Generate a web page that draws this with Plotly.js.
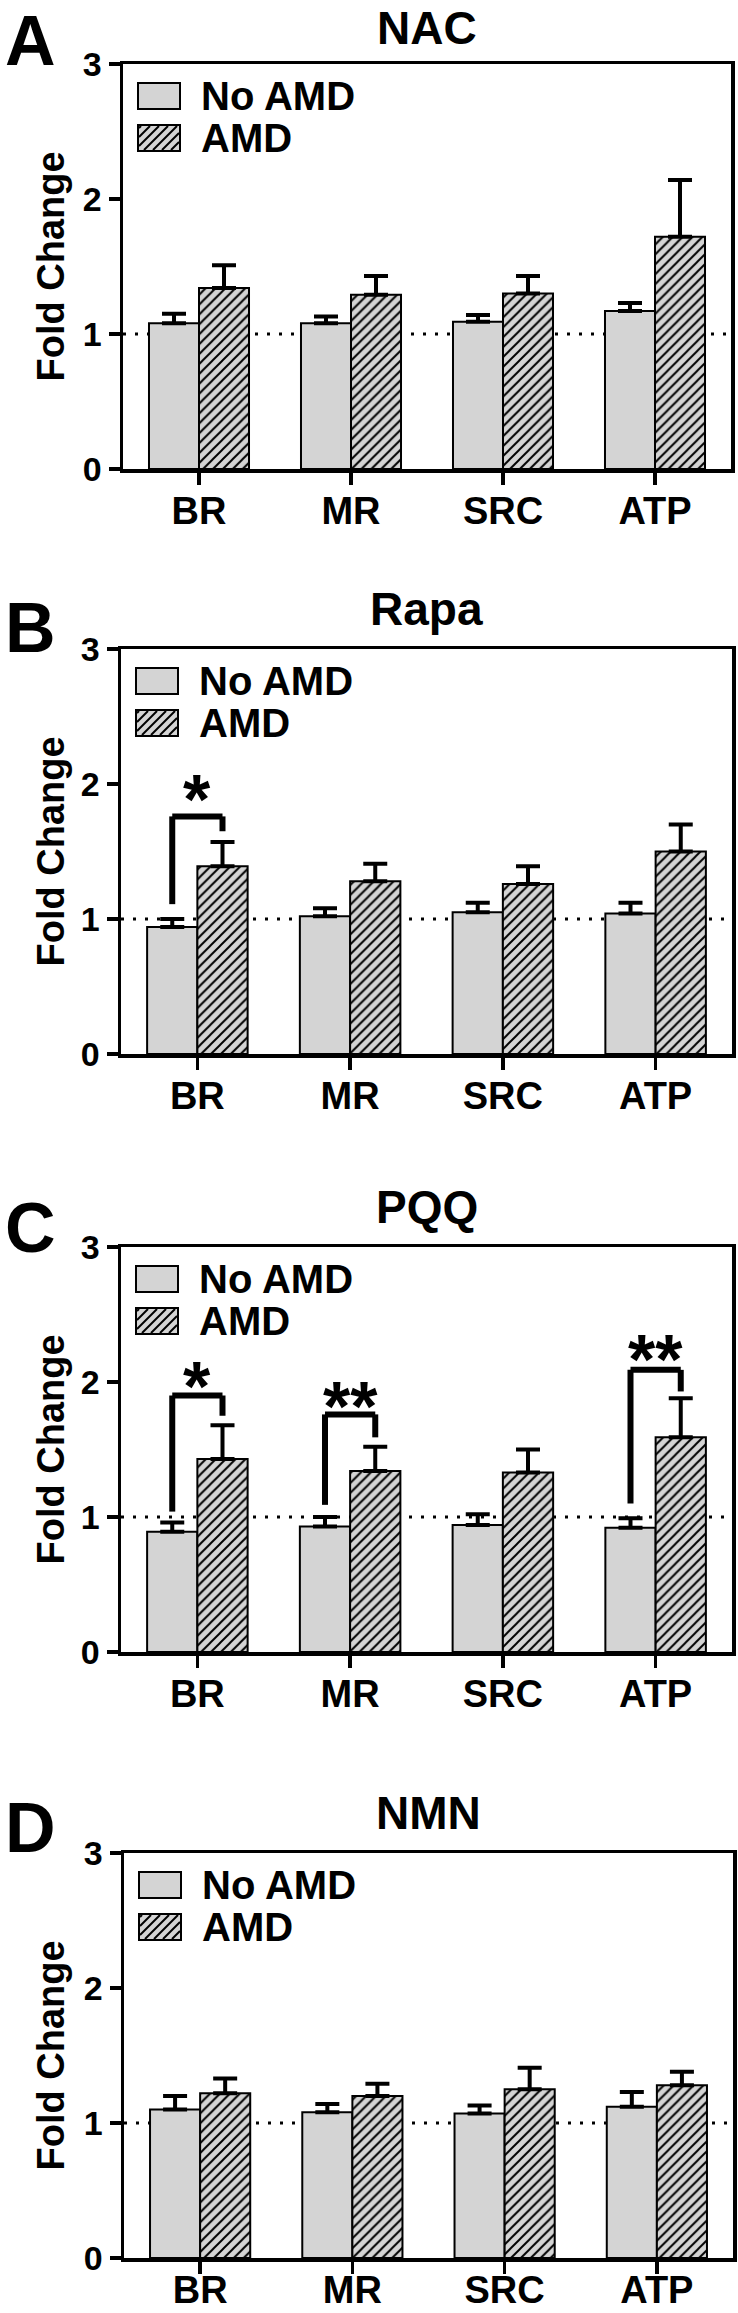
<!DOCTYPE html>
<html><head><meta charset="utf-8">
<script src="https://cdn.plot.ly/plotly-3.0.1.min.js"></script>
<style>html,body{margin:0;padding:0;background:#fff}#chart{width:738px;height:2313px}</style>
</head><body><div id="chart"></div>
<script>
// ---------------- data ----------------
const categories = ['BR', 'MR', 'SRC', 'ATP'];
const panelTitles = ['NAC', 'Rapa', 'PQQ', 'NMN'];
const panelLetters = ['A', 'B', 'C', 'D'];
const seriesNames = ['No AMD', 'AMD'];
const yTickVals = [0, 1, 2, 3];
const yAxisTitle = 'Fold Change';
const referenceLevel = 1;

const nacNoAMD = [1.08, 1.08, 1.09, 1.17];
const nacNoAMDErr = [0.07, 0.05, 0.05, 0.06];
const nacAMD = [1.34, 1.29, 1.30, 1.72];
const nacAMDErr = [0.17, 0.14, 0.13, 0.42];

const rapaNoAMD = [0.94, 1.02, 1.05, 1.04];
const rapaNoAMDErr = [0.06, 0.06, 0.07, 0.08];
const rapaAMD = [1.39, 1.28, 1.26, 1.50];
const rapaAMDErr = [0.18, 0.13, 0.13, 0.20];

const pqqNoAMD = [0.89, 0.93, 0.94, 0.92];
const pqqNoAMDErr = [0.07, 0.07, 0.08, 0.07];
const pqqAMD = [1.43, 1.34, 1.33, 1.59];
const pqqAMDErr = [0.25, 0.18, 0.17, 0.29];

const nmnNoAMD = [1.10, 1.08, 1.07, 1.12];
const nmnNoAMDErr = [0.10, 0.06, 0.06, 0.11];
const nmnAMD = [1.22, 1.20, 1.25, 1.28];
const nmnAMDErr = [0.11, 0.09, 0.16, 0.10];

// significance brackets
const sigPanel = [1, 2, 2, 2];
const sigCategory = ['BR', 'BR', 'MR', 'ATP'];
const sigLabel = ['*', '*', '**', '**'];
const sigLeftBottom = [1.11, 1.04, 1.09, 1.10];
const sigTop = [1.76, 1.90, 1.76, 2.09];
const sigRightBottom = [1.65, 1.75, 1.59, 1.93];
const sigLabelY = [2.00, 2.08, 1.93, 2.28];

// ---------------- layout helpers ----------------
const W = 738, H = 2313;
const noAMDSets = [[nacNoAMD, nacNoAMDErr], [rapaNoAMD, rapaNoAMDErr], [pqqNoAMD, pqqNoAMDErr], [nmnNoAMD, nmnNoAMDErr]];
const amdSets = [[nacAMD, nacAMDErr], [rapaAMD, rapaAMDErr], [pqqAMD, pqqAMDErr], [nmnAMD, nmnAMDErr]];
const plotTop = [64, 649, 1247, 1853];
const plotLeft = [123, 121, 121, 124];
const plotRight = [731, 732, 732, 733];
const plotH = 405;
const letterDy = [23, 21, 19, 25];
const titleDy = [36, 40, 40, 40];
const xLabelStandoff = [-6, -6, -6, -16];
const gray = '#d4d4d4';
const bargap = 0.342;
const FAM = '"Liberation Sans", Arial, Helvetica, sans-serif';
function fnt(size) { return {family: FAM, size: size, color: '#000', weight: 'bold'}; }
function px2x(p) { return p / W; }
function px2y(p) { return 1 - p / H; }

const traces = [];
const shapes = [];
const annotations = [];
const layout = {
  width: W, height: H,
  margin: {l: 0, r: 0, t: 0, b: 0},
  paper_bgcolor: '#fff', plot_bgcolor: '#fff',
  barmode: 'group', bargap: bargap, bargroupgap: 0,
  showlegend: false,
  font: fnt(30)
};

for (let i = 0; i < 4; i++) {
  const s = i === 0 ? '' : String(i + 1);
  const xa = 'x' + s, ya = 'y' + s;
  const top = plotTop[i], left = plotLeft[i], right = plotRight[i];
  layout['xaxis' + s] = {
    domain: [px2x(left), px2x(right)], anchor: ya,
    type: 'category', categoryorder: 'array', categoryarray: categories,
    range: [-0.5, 3.5],
    showline: true, mirror: true, linecolor: '#000', linewidth: 3.5,
    ticks: 'outside', ticklen: 12, tickwidth: 3.5, tickcolor: '#000',
    ticklabelstandoff: xLabelStandoff[i],
    tickfont: fnt(38), showgrid: false, zeroline: false, fixedrange: true
  };
  layout['yaxis' + s] = {
    domain: [px2y(top + plotH), px2y(top)], anchor: xa,
    range: [0, 3], tickmode: 'array', tickvals: yTickVals, ticktext: yTickVals.map(String),
    showline: true, mirror: true, linecolor: '#000', linewidth: 3.5,
    ticks: 'outside', ticklen: 11, tickwidth: 3.5, tickcolor: '#000',
    tickfont: fnt(34), showgrid: false, zeroline: false, fixedrange: true
  };

  const [nv, ne] = noAMDSets[i];
  const [av, ae] = amdSets[i];
  traces.push({
    type: 'bar', name: seriesNames[0], x: categories, y: nv, xaxis: xa, yaxis: ya,
    marker: {color: gray, line: {color: '#000', width: 2}},
    error_y: {type: 'data', symmetric: false, array: ne, arrayminus: ne.map(() => 0),
              color: '#000', thickness: 4, width: 12},
    hoverinfo: 'skip'
  });
  traces.push({
    type: 'bar', name: seriesNames[1], x: categories, y: av, xaxis: xa, yaxis: ya,
    marker: {color: gray, line: {color: '#000', width: 2},
             pattern: {shape: '/', fgcolor: '#000', bgcolor: gray, size: 7, solidity: 0.28}},
    error_y: {type: 'data', symmetric: false, array: ae, arrayminus: ae.map(() => 0),
              color: '#000', thickness: 4, width: 12},
    hoverinfo: 'skip'
  });

  // dotted reference line at 1
  shapes.push({type: 'line', xref: xa + ' domain', yref: ya, x0: 0, x1: 1,
               y0: referenceLevel, y1: referenceLevel, layer: 'below',
               line: {color: '#000', width: 3, dash: '3px,9px'}});

  // panel letter
  annotations.push({xref: 'paper', yref: 'paper', x: px2x(30), y: px2y(top - letterDy[i]),
                    xanchor: 'center', yanchor: 'middle', showarrow: false,
                    text: panelLetters[i], font: fnt(70)});
  // title
  annotations.push({xref: 'paper', yref: 'paper', x: px2x((left + right) / 2), y: px2y(top - titleDy[i]),
                    xanchor: 'center', yanchor: 'middle', showarrow: false,
                    text: panelTitles[i], font: fnt(46)});
  // y axis title
  annotations.push({xref: 'paper', yref: 'paper', x: px2x(50), y: px2y(top + plotH / 2),
                    xanchor: 'center', yanchor: 'middle', showarrow: false, textangle: -90,
                    text: yAxisTitle, font: fnt(38)});

  // manual legend
  const bx0 = left + 15, bx1 = left + 57;
  const boxes = [[top + 19, top + 45], [top + 61, top + 87]];
  boxes.forEach(([by0, by1], k) => {
    shapes.push({type: 'rect', xref: 'paper', yref: 'paper',
                 x0: px2x(bx0), x1: px2x(bx1), y0: px2y(by1), y1: px2y(by0),
                 fillcolor: gray, line: {color: '#000', width: 2}});
    if (k === 1) {
      const sp = 9;
      for (let c = bx0 + by0 + 4; c < bx1 + by1; c += sp) {
        const xa0 = Math.max(bx0 + 1, c - (by1 - 1));
        const xb0 = Math.min(bx1 - 1, c - (by0 + 1));
        if (xb0 - xa0 > 1) {
          shapes.push({type: 'line', xref: 'paper', yref: 'paper',
                       x0: px2x(xa0), y0: px2y(c - xa0), x1: px2x(xb0), y1: px2y(c - xb0),
                       line: {color: '#000', width: 2}});
        }
      }
    }
    annotations.push({xref: 'paper', yref: 'paper', x: px2x(left + 76), y: px2y((by0 + by1) / 2),
                      xanchor: 'left', yanchor: 'middle', showarrow: false,
                      text: seriesNames[k], font: fnt(40)});
  });
}

// significance brackets
const off = (1 - bargap) / 4;
for (let j = 0; j < sigPanel.length; j++) {
  const i = sigPanel[j];
  const s = i === 0 ? '' : String(i + 1);
  const c = categories.indexOf(sigCategory[j]);
  const xl = c - off, xr = c + off;
  const ln = {color: '#000', width: 6};
  shapes.push({type: 'line', xref: 'x' + s, yref: 'y' + s, x0: xl, x1: xl, y0: sigLeftBottom[j], y1: sigTop[j], line: ln});
  shapes.push({type: 'line', xref: 'x' + s, yref: 'y' + s, x0: xl, x1: xr, y0: sigTop[j], y1: sigTop[j], line: ln});
  shapes.push({type: 'line', xref: 'x' + s, yref: 'y' + s, x0: xr, x1: xr, y0: sigTop[j], y1: sigRightBottom[j], line: ln});
  annotations.push({xref: 'x' + s, yref: 'y' + s, x: c, y: sigLabelY[j], yshift: -16,
                    xanchor: 'center', yanchor: 'middle', showarrow: false,
                    text: sigLabel[j], font: fnt(70)});
}

layout.shapes = shapes;
layout.annotations = annotations;
Plotly.newPlot('chart', traces, layout, {staticPlot: true, displayModeBar: false});
</script>
</body></html>
